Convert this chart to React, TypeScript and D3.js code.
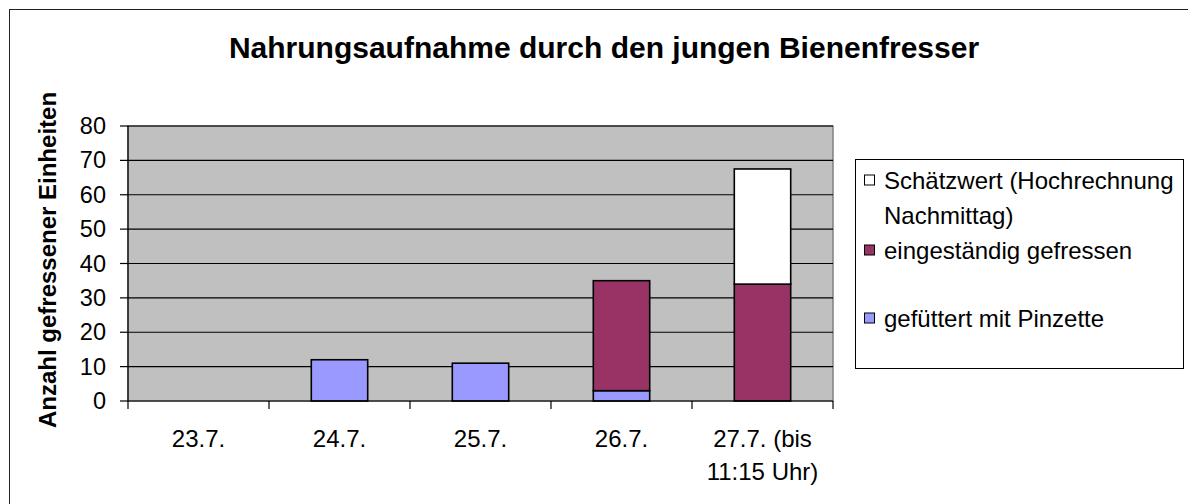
import React from "react";
import * as d3 from "d3";

const title = "Nahrungsaufnahme durch den jungen Bienenfresser";
const yTitle = "Anzahl gefressener Einheiten";
const categories = ["23.7.", "24.7.", "25.7.", "26.7.", "27.7. (bis 11:15 Uhr)"];
const categoryLines = [["23.7."], ["24.7."], ["25.7."], ["26.7."], ["27.7. (bis", "11:15 Uhr)"]];
const pinzette = [0, 12, 11, 3, 0];
const eigenstaendig = [0, 0, 0, 32, 34];
const schaetzwert = [0, 0, 0, 0, 33.5];
const yTicks = [0, 10, 20, 30, 40, 50, 60, 70, 80];
const seriesKeys = ["pinzette", "eigen", "schaetz"];
const seriesColors: Record<string, string> = { pinzette: "#9999FF", eigen: "#993366", schaetz: "#FFFFFF" };
const legendItems = [
  { key: "schaetz", lines: ["Schätzwert (Hochrechnung", "Nachmittag)"] },
  { key: "eigen", lines: ["eingeständig gefressen"] },
  { key: "pinzette", lines: ["gefüttert mit Pinzette"] },
];

const W = 1188;
const H = 504;
const font = "'Liberation Sans', Arial, Helvetica, sans-serif";

export default function App() {
  const plot = { left: 128, right: 833, top: 126, bottom: 401 };
  const x = d3.scaleBand<string>().domain(categories).range([plot.left, plot.right]).paddingInner(0.6).paddingOuter(0.3);
  const y = d3.scaleLinear().domain([0, 80]).range([plot.bottom, plot.top]);
  const rows = categories.map((c, i) => ({ cat: c, pinzette: pinzette[i], eigen: eigenstaendig[i], schaetz: schaetzwert[i] }));
  const stacked = d3.stack<any>().keys(seriesKeys)(rows);
  const step = x.step();
  const boundaries = d3.range(categories.length + 1).map((i) => plot.left + i * step);

  const legendY = [180, 215, 250, 318];
  const legendRowY = [180, 250, 318];

  return (
    <svg width={W} height={H} style={{ position: "absolute", left: 0, top: 0, background: "#fff" }} fontFamily={font}>
      <rect x={9.5} y={9.5} width={1300} height={700} fill="#fff" stroke="#222" strokeWidth={1} />
      <text x={604} y={58} textAnchor="middle" fontSize={30} fontWeight="bold" fill="#000">{title}</text>

      {/* plot area */}
      <rect x={plot.left} y={plot.top} width={plot.right - plot.left} height={plot.bottom - plot.top} fill="#C0C0C0" stroke="#808080" strokeWidth={1.5} />
      {yTicks.filter((t) => t > 0).map((t) => (
        <line key={"g" + t} x1={plot.left} x2={plot.right} y1={y(t)} y2={y(t)} stroke="#000" strokeWidth={1.2} />
      ))}

      {/* bars */}
      {stacked.map((layer) => (
        <g key={layer.key}>
          {layer.map((d, i) => {
            const h = y(d[0]) - y(d[1]);
            if (h <= 0) return null;
            return (
              <rect key={i} x={x(categories[i])!} y={y(d[1])} width={x.bandwidth()} height={h}
                fill={seriesColors[layer.key]} stroke="#000" strokeWidth={1.6} />
            );
          })}
        </g>
      ))}

      {/* axes */}
      <line x1={plot.left} x2={plot.left} y1={plot.top} y2={plot.bottom} stroke="#000" strokeWidth={1.2} />
      <line x1={plot.left} x2={plot.right} y1={plot.bottom} y2={plot.bottom} stroke="#000" strokeWidth={1.2} />
      {yTicks.map((t) => (
        <g key={"t" + t}>
          <line x1={plot.left - 8} x2={plot.left} y1={y(t)} y2={y(t)} stroke="#000" strokeWidth={1.2} />
          <text x={106} y={y(t) + 8} textAnchor="end" fontSize={23.5} fill="#000">{t}</text>
        </g>
      ))}
      {boundaries.map((bx, i) => (
        <line key={"xt" + i} x1={bx} x2={bx} y1={plot.bottom} y2={plot.bottom + 8} stroke="#000" strokeWidth={1.2} />
      ))}
      {categories.map((c, i) => (
        <text key={c} textAnchor="middle" fontSize={24} fill="#000">
          {categoryLines[i].map((ln, j) => (
            <tspan key={j} x={x(c)! + x.bandwidth() / 2} y={447 + j * 33}>{ln}</tspan>
          ))}
        </text>
      ))}
      <text transform="translate(56,260) rotate(-90)" textAnchor="middle" fontSize={24} fontWeight="bold" fill="#000">{yTitle}</text>

      {/* legend */}
      <rect x={855.5} y={159.5} width={328} height={209} fill="#fff" stroke="#000" strokeWidth={1} />
      {legendItems.map((it, i) => (
        <g key={it.key}>
          <rect x={864.5} y={legendRowY[i] - 5} width={10} height={10} fill={seriesColors[it.key]} stroke="#000" strokeWidth={1} />
          <text fontSize={24} fill="#000">
            {it.lines.map((ln, j) => (
              <tspan key={j} x={884} y={legendRowY[i] + 8.5 + j * (legendY[1] - legendY[0])}>{ln}</tspan>
            ))}
          </text>
        </g>
      ))}
    </svg>
  );
}
